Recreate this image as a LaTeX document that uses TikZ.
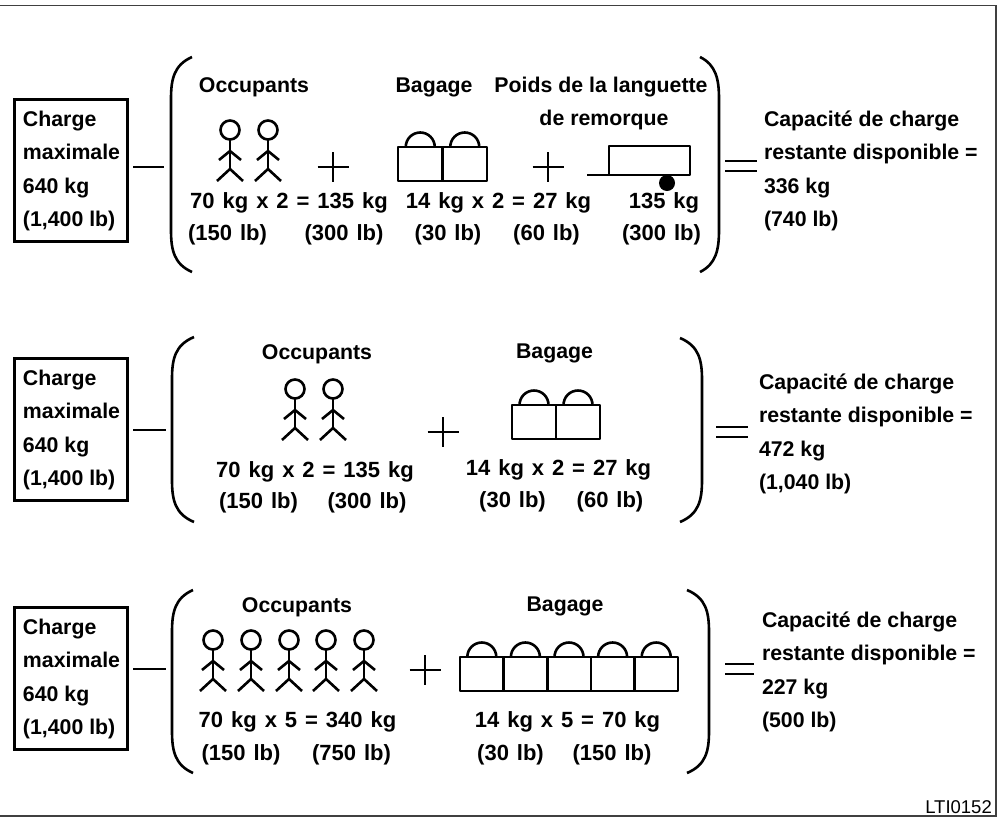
\documentclass[tikz,border=0pt]{standalone}
\usepackage{fontspec}
\setmainfont{Liberation Sans}
\newfontfamily\numfont[WordSpace=1.3]{Liberation Sans}
\tikzset{
  ink/.style={line width=2.6pt, line join=round},
  lbl/.style={font=\bfseries\fontsize{21.3}{25}\selectfont, inner sep=0pt, outer sep=0pt},
  num/.style={font=\numfont\bfseries\fontsize{22}{25}\selectfont, inner sep=0pt, outer sep=0pt},
  boxed/.style={draw, line width=2.8pt, minimum width=113pt, minimum height=142pt, inner sep=0pt, anchor=north west},
  frame/.style={line width=1.6pt, draw=black!75},
}
% stick figure: head centre x, y
\newcommand\Stick[2]{%
  \draw[ink] (#1,#2) circle[radius=9.5];
  \draw[ink] (#1,#2+9.5) -- (#1,#2+39);
  \draw[ink] (#1-11,#2+30) -- (#1,#2+21) -- (#1+11,#2+30);
  \draw[ink] (#1-13,#2+51) -- (#1,#2+39) -- (#1+13,#2+51);
}
% bags: left x, top y, width, count
\newcommand\Bags[4]{%
  \foreach \i in {1,...,#4}{%
    \draw[ink] ({#1+(\i-1)*#3},#2) rectangle ++(#3,34);
    \draw[ink] ({#1+(\i-0.5)*#3-14.5},#2) arc[start angle=180, end angle=360, radius=14.5];
  }
}
\newcommand\PlusSign[2]{%
  \draw[ink] (#1-15.5,#2) -- (#1+15.5,#2) (#1,#2-15) -- (#1,#2+15);
}
\newcommand\LParen[4]{%
  \draw[ink] (#2,#3) .. controls (#1+3,#3+8) and (#1,#3+22) .. (#1,#3+42) -- (#1,#4-42) .. controls (#1,#4-22) and (#1+3,#4-8) .. (#2,#4);
}
\newcommand\RParen[4]{%
  \draw[ink] (#2,#3) .. controls (#1-3,#3+8) and (#1,#3+22) .. (#1,#3+42) -- (#1,#4-42) .. controls (#1,#4-22) and (#1-3,#4-8) .. (#2,#4);
}
% charge box: prefix, top y
\newcommand\ChargeBox[2]{%
  \node[boxed] (#1box) at (13,#2) {};
  \node[lbl, anchor=base west] (#1c1) at (23,#2+28) {Charge};
  \node[lbl, anchor=base west] (#1c2) at (23,#2+61.5) {maximale};
  \node[lbl, anchor=base west] (#1c3) at (23,#2+95) {640 kg};
  \node[lbl, anchor=base west] (#1c4) at (23,#2+128) {(1,400 lb)};
}
% result text: prefix, x, first baseline, kg, lb
\newcommand\Result[5]{%
  \node[lbl, anchor=base west] (#1r1) at (#2,#3) {Capacité de charge};
  \node[lbl, anchor=base west] (#1r2) at (#2,#3+33) {restante disponible =};
  \node[lbl, anchor=base west] (#1r3) at (#2,#3+67) {#4};
  \node[lbl, anchor=base west] (#1r4) at (#2,#3+100) {#5};
}
\newcommand\Equal[4]{%
  \draw[line width=2.8pt] (#1,#3) -- (#2,#3) (#1,#4) -- (#2,#4);
}
\begin{document}
\begin{tikzpicture}[x=1pt,y=-1pt]
\useasboundingbox (0,0) rectangle (998,817);
% outer frame (no left side)
\draw[frame] (0,5.5) -- (996,5.5) -- (996,816) -- (0,816);
\node[font=\fontsize{18.5}{20}\selectfont, inner sep=0pt, anchor=base east] (code) at (992,813) {LTI0152};

% ---------------- Row 1 ----------------
\ChargeBox{a}{98}
\draw[ink] (133,167) -- (164,167);
\LParen{171}{192}{57}{272}
\RParen{719}{700}{57}{272}
\node[lbl, anchor=base] (aocc) at (254,92) {Occupants};
\node[lbl, anchor=base] (abag) at (434,92) {Bagage};
\node[lbl, anchor=base] (apoids) at (601,92) {Poids de la languette};
\node[lbl, anchor=base] (arem) at (604,125) {de remorque};
\Stick{230}{130}
\Stick{268}{130}
\PlusSign{333}{167}
\Bags{398}{147}{44.5}{2}
\PlusSign{548}{167}
% trailer
\draw[ink] (587,175) -- (690,175) -- (690,146) -- (609,146) -- (609,175);
\fill (667,183) circle[radius=8];
\node[num, anchor=base] (an1) at (289,208) {70 kg x 2 = 135 kg};
\node[num, anchor=base] (an2) at (227.5,240) {(150 lb)};
\node[num, anchor=base] (an3) at (344,240) {(300 lb)};
\node[num, anchor=base] (an4) at (498.5,208) {14 kg x 2 = 27 kg};
\node[num, anchor=base] (an5) at (448,240) {(30 lb)};
\node[num, anchor=base] (an6) at (546.5,240) {(60 lb)};
\node[num, anchor=base] (an7) at (664,208) {135 kg};
\node[num, anchor=base] (an8) at (661.5,240) {(300 lb)};
\Equal{725}{757}{161}{171}
\Result{a}{764}{126}{336 kg}{(740 lb)}

% ---------------- Row 2 ----------------
\ChargeBox{b}{357}
\draw[ink] (133,430) -- (166,430);
\LParen{172}{194}{337}{522}
\RParen{702}{680}{338}{522}
\node[lbl, anchor=base] (bocc) at (317,359) {Occupants};
\node[lbl, anchor=base] (bbag) at (554.5,358) {Bagage};
\Stick{295}{389}
\Stick{333}{389}
\PlusSign{443}{432}
\Bags{512}{405}{44}{2}
\node[num, anchor=base] (bn1) at (315,477) {70 kg x 2 = 135 kg};
\node[num, anchor=base] (bn2) at (258.5,508) {(150 lb)};
\node[num, anchor=base] (bn3) at (367,508) {(300 lb)};
\node[num, anchor=base] (bn4) at (558.5,475) {14 kg x 2 = 27 kg};
\node[num, anchor=base] (bn5) at (512.5,507) {(30 lb)};
\node[num, anchor=base] (bn6) at (610,507) {(60 lb)};
\Equal{716}{748}{427}{437}
\Result{b}{759}{389}{472 kg}{(1,040 lb)}

% ---------------- Row 3 ----------------
\ChargeBox{c}{606}
\draw[ink] (133,669) -- (166,669);
\LParen{172}{193}{590}{773}
\RParen{709}{687}{590}{773}
\node[lbl, anchor=base] (cocc) at (297,612) {Occupants};
\node[lbl, anchor=base] (cbag) at (565,611) {Bagage};
\Stick{213}{640}
\Stick{251}{640}
\Stick{289}{640}
\Stick{326}{640}
\Stick{364}{640}
\PlusSign{425}{670}
\Bags{460}{657}{43.6}{5}
\node[num, anchor=base] (cn1) at (297.5,727) {70 kg x 5 = 340 kg};
\node[num, anchor=base] (cn2) at (241,760) {(150 lb)};
\node[num, anchor=base] (cn3) at (351.5,760) {(750 lb)};
\node[num, anchor=base] (cn4) at (567.5,727) {14 kg x 5 = 70 kg};
\node[num, anchor=base] (cn5) at (510.5,760) {(30 lb)};
\node[num, anchor=base] (cn6) at (612,760) {(150 lb)};
\Equal{725}{754}{664}{674}
\Result{c}{762}{627}{227 kg}{(500 lb)}
\end{tikzpicture}
\end{document}
